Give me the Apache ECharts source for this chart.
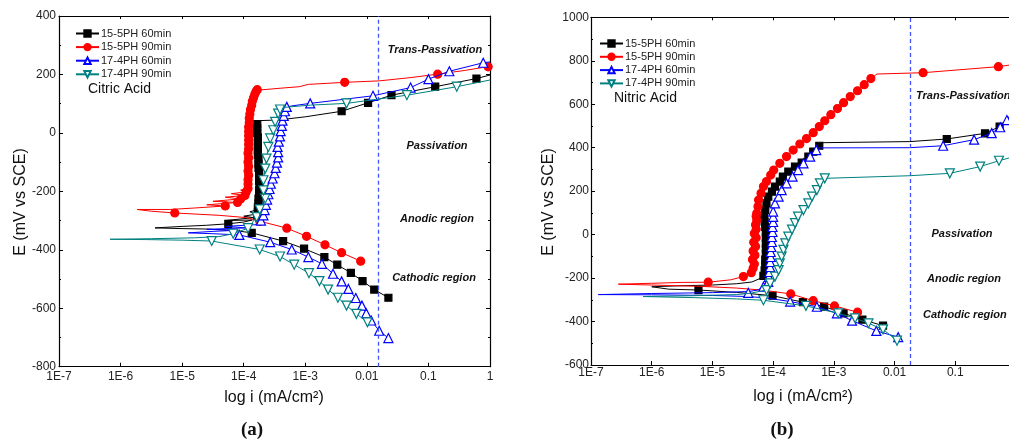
<!DOCTYPE html>
<html><head><meta charset="utf-8">
<script src="https://cdn.jsdelivr.net/npm/echarts@6/dist/echarts.min.js"></script>
<style>html,body{margin:0;padding:0;background:#fff;overflow:hidden}#c{width:1030px;height:443px}</style>
</head><body><div id="c"></div>
<script>
// ---------- data (x = log10 i, i in mA/cm2 ; y = E in mV vs SCE) ----------
const seriesNames = ['15-5PH 60min', '15-5PH 90min', '17-4PH 60min', '17-4PH 90min'];
const xTickValues = [-7, -6, -5, -4, -3, -2, -1, 0];
const xTickLabels = ['1E-7', '1E-6', '1E-5', '1E-4', '1E-3', '0.01', '0.1', '1'];
const dashedA = -1.81;
const dashedB = -1.75;

// Panel (a) Citric Acid
const aBlackLine = [[-1.65,-564],[-1.88,-536],[-2.07,-507],[-2.26,-479],[-2.48,-451],[-2.69,-425],[-3.02,-396],[-3.36,-370],[-3.87,-342],[-4.15,-334],[-4.6,-329],[-5.1,-327],[-5.44,-325],
  [-5.0,-320],[-4.6,-316],[-4.25,-311],[-4.0,-305],[-3.86,-298],[-4.3,-300],[-3.84,-290],[-4.0,-285],[-3.8,-278],[-3.9,-270],[-3.77,-262],[-3.82,-250],[-3.75,-240],[-3.76,-210],[-3.74,-180],[-3.75,-140],[-3.76,-100],[-3.77,-60],[-3.77,-20],[-3.78,15],[-3.77,30],[-3.76,42],
  [-3.45,44],[-3.0,55],[-2.41,74],[-1.98,103],[-1.60,129],[-0.89,158],[-0.22,186],[0,198]];
const aBlackMarks = [[-1.65,-564],[-1.88,-536],[-2.07,-507],[-2.26,-479],[-2.48,-451],[-2.69,-425],[-3.02,-396],[-3.36,-370],[-3.87,-342],[-4.25,-311],
  [-3.78,-285],[-3.77,-270],[-3.77,-255],[-3.76,-240],[-3.76,-225],[-3.75,-210],[-3.75,-195],[-3.74,-180],[-3.75,-165],[-3.75,-150],[-3.75,-135],[-3.76,-120],[-3.76,-105],[-3.76,-90],[-3.77,-75],[-3.77,-60],[-3.77,-45],[-3.77,-30],[-3.77,-15],[-3.78,0],[-3.78,15],[-3.78,30],
  [-2.41,74],[-1.98,103],[-1.60,129],[-0.89,158],[-0.22,186]];
const aRedLine = [[-2.10,-439],[-2.41,-410],[-2.68,-383],[-2.98,-354],[-3.30,-326],[-3.74,-302],[-3.95,-290],[-4.4,-282],[-5.12,-274],[-5.5,-268],[-5.73,-262],
  [-5.2,-262],[-4.8,-257],[-4.3,-250],[-4.6,-246],[-4.1,-238],[-4.5,-234],[-4.05,-226],[-4.3,-220],[-3.98,-214],[-4.2,-208],[-3.96,-202],[-4.05,-196],[-3.93,-188],[-3.92,-170],[-3.93,-140],[-3.92,-100],[-3.93,-60],[-3.92,-20],[-3.92,20],[-3.91,50],[-3.89,80],[-3.87,100],[-3.84,118],[-3.81,135],[-3.78,146],[-3.76,150],
  [-3.4,153],[-3.1,158],[-2.95,166],[-2.36,173],[-1.8,178],[-1.3,189],[-0.85,201],[-0.4,214],[0,228]];
const aRedMarks = [[-2.10,-439],[-2.41,-410],[-2.68,-383],[-2.98,-354],[-3.30,-326],[-3.74,-302],[-5.12,-274],
  [-4.3,-250],[-4.1,-238],[-4.05,-226],[-3.98,-214],[-3.96,-202],
  [-3.93,-190],[-3.93,-175],[-3.93,-160],[-3.92,-145],[-3.93,-130],[-3.92,-115],[-3.93,-100],[-3.92,-85],[-3.93,-70],[-3.92,-55],[-3.92,-40],[-3.92,-25],[-3.92,-10],[-3.92,5],[-3.92,20],[-3.91,35],[-3.91,50],[-3.90,65],[-3.89,80],[-3.87,95],[-3.86,108],[-3.84,120],[-3.82,132],[-3.80,142],[-3.78,148],
  [-2.36,173],[-0.85,201],[-0.03,226]];
const aBlueLine = [[-1.65,-702],[-1.80,-677],[-1.93,-642],[-2.01,-617],[-2.08,-591],[-2.18,-565],[-2.30,-534],[-2.41,-508],[-2.55,-482],[-2.73,-448],[-2.95,-425],[-3.22,-399],[-3.57,-374],[-4.07,-349],[-4.5,-345],[-4.9,-342],
  [-4.5,-337],[-4.1,-333],[-4.6,-330],[-3.95,-325],[-4.3,-320],[-3.80,-314],[-3.72,-300],[-3.68,-280],[-3.65,-260],[-3.63,-240],[-3.60,-200],[-3.57,-175],[-3.52,-145],[-3.47,-110],[-3.44,-80],[-3.44,-55],[-3.45,-35],[-3.41,0],[-3.38,30],[-3.35,58],[-3.32,80],[-3.29,89],[-3.2,93],
  [-2.92,101],[-1.90,127],[-1.29,155],[-1.00,184],[-0.66,211],[-0.11,240],[0,243]];
const aBlueMarks = [[-1.65,-702],[-1.80,-677],[-1.93,-642],[-2.01,-617],[-2.08,-591],[-2.18,-565],[-2.30,-534],[-2.41,-508],[-2.55,-482],[-2.73,-448],[-2.95,-425],[-3.22,-399],[-3.57,-374],[-4.07,-349],
  [-3.72,-300],[-3.68,-282],[-3.66,-264],[-3.64,-246],[-3.62,-228],[-3.60,-210],[-3.58,-192],[-3.56,-174],[-3.53,-156],[-3.50,-138],[-3.48,-120],[-3.46,-102],[-3.44,-84],[-3.44,-66],[-3.45,-48],[-3.43,-30],[-3.41,-12],[-3.40,6],[-3.38,24],[-3.37,42],[-3.35,58],[-3.33,74],[-3.30,89],
  [-2.92,101],[-1.90,127],[-1.29,155],[-1.00,184],[-0.66,211],[-0.11,240]];
const aTealLine = [[-1.99,-648],[-2.17,-619],[-2.33,-591],[-2.47,-564],[-2.63,-536],[-2.77,-507],[-2.94,-480],[-3.18,-451],[-3.41,-423],[-3.74,-399],[-4.52,-370],[-5.0,-367],[-5.6,-365],[-6.17,-364],
  [-5.5,-362],[-4.8,-359],[-4.4,-355],[-4.17,-345],[-3.93,-326],[-3.79,-288],[-3.74,-262],[-3.65,-225],[-3.68,-197],[-3.68,-162],[-3.65,-122],[-3.63,-88],[-3.60,-48],[-3.57,-19],[-3.52,9],[-3.49,38],[-3.44,66],[-3.41,80],[-3.36,87],
  [-2.92,95],[-2.33,101],[-1.35,129],[-0.54,158],[0,181]];
const aTealMarks = [[-1.99,-648],[-2.17,-619],[-2.33,-591],[-2.47,-564],[-2.63,-536],[-2.77,-507],[-2.94,-480],[-3.18,-451],[-3.41,-423],[-3.74,-399],[-4.52,-370],
  [-4.17,-345],[-3.93,-326],[-3.79,-288],[-3.74,-262],[-3.65,-225],[-3.68,-197],[-3.68,-162],[-3.65,-122],[-3.63,-88],[-3.60,-48],[-3.57,-19],[-3.52,9],[-3.49,38],[-3.44,66],[-3.41,80],
  [-2.33,101],[-1.35,129],[-0.54,158]];

// Panel (b) Nitric Acid
const bBlackLine = [[-2.19,-419],[-2.53,-391],[-2.84,-362],[-3.16,-331],[-3.51,-311],[-4.01,-281],[-4.6,-266],[-5.23,-255],[-5.72,-251],[-6.0,-240],
  [-5.6,-236],[-5.0,-232],[-4.6,-226],[-4.35,-218],[-4.2,-200],[-4.14,-185],[-4.18,-170],[-4.11,-150],[-4.16,-130],[-4.10,-110],[-4.15,-90],[-4.10,-65],[-4.14,-40],[-4.10,-15],[-4.14,10],[-4.11,35],[-4.15,60],[-4.15,83],[-4.13,113],[-4.11,144],[-4.08,175],[-4.02,198],[-3.97,221],[-3.89,244],[-3.84,267],[-3.75,290],[-3.64,313],[-3.53,331],[-3.42,359],[-3.34,382],[-3.24,409],[-3.20,423],
  [-1.75,428],[-1.14,440],[-0.51,466],[-0.27,497],[-0.11,527]];
const bBlackMarks = [[-2.19,-419],[-2.53,-391],[-2.84,-362],[-3.16,-331],[-3.51,-311],[-4.01,-281],[-5.23,-255],
  [-4.16,-190],[-4.14,-165],[-4.13,-140],[-4.13,-115],[-4.12,-90],[-4.12,-65],[-4.12,-40],[-4.12,-15],[-4.12,10],[-4.13,35],[-4.14,60],[-4.15,83],[-4.13,113],[-4.11,144],[-4.08,175],[-4.02,198],[-3.97,221],[-3.89,244],[-3.84,267],[-3.75,290],[-3.64,313],[-3.53,331],[-3.42,359],[-3.34,382],[-3.24,409],
  [-1.14,440],[-0.51,466],[-0.27,497]];
const bRedLine = [[-2.61,-357],[-2.99,-328],[-3.34,-304],[-3.71,-273],[-4.15,-256],[-4.6,-246],[-5.2,-238],[-6.0,-232],[-6.55,-228],
  [-6.0,-224],[-5.5,-220],[-5.07,-219],[-4.7,-208],[-4.49,-193],[-4.38,-180],[-4.33,-165],[-4.38,-150],[-4.30,-130],[-4.36,-110],[-4.29,-90],[-4.34,-70],[-4.28,-50],[-4.33,-25],[-4.27,0],[-4.32,25],[-4.26,50],[-4.30,75],[-4.27,98],[-4.25,129],[-4.24,159],[-4.20,190],[-4.16,221],[-4.11,244],[-4.04,274],[-3.99,297],[-3.89,328],[-3.78,359],[-3.67,389],[-3.56,417],[-3.45,442],[-3.34,469],[-3.24,497],[-3.15,524],[-3.05,552],[-2.94,580],[-2.84,607],[-2.73,635],[-2.61,662],[-2.50,690],[-2.39,718],[-2.29,739],
  [-1.53,745],[-0.29,773],[-0.11,780]];
const bRedMarks = [[-2.61,-357],[-2.99,-328],[-3.34,-304],[-3.71,-273],[-5.07,-219],[-4.49,-193],
  [-4.36,-175],[-4.33,-155],[-4.31,-135],[-4.34,-115],[-4.30,-95],[-4.33,-75],[-4.29,-55],[-4.32,-35],[-4.28,-15],[-4.31,5],[-4.28,25],[-4.29,45],[-4.27,65],[-4.28,85],[-4.27,98],[-4.25,129],[-4.24,159],[-4.20,190],[-4.16,221],[-4.11,244],[-4.04,274],[-3.99,297],[-3.89,328],[-3.78,359],[-3.67,389],[-3.56,417],[-3.45,442],[-3.34,469],[-3.24,497],[-3.15,524],[-3.05,552],[-2.94,580],[-2.84,607],[-2.73,635],[-2.61,662],[-2.50,690],[-2.39,718],
  [-1.53,745],[-0.29,773]];
const bBlueLine = [[-1.94,-472],[-2.30,-443],[-2.70,-396],[-2.95,-362],[-3.28,-332],[-3.72,-308],[-4.1,-292],[-4.41,-285],[-5.0,-280],[-6.0,-277],[-6.88,-276],
  [-6.0,-271],[-5.0,-267],[-4.41,-262],[-4.25,-255],[-4.16,-240],[-4.08,-224],[-4.07,-200],[-4.06,-170],[-4.05,-147],[-4.05,-120],[-4.04,-90],[-4.03,-60],[-4.02,-30],[-4.02,0],[-4.01,30],[-4.00,60],[-4.00,106],[-3.97,144],[-3.91,175],[-3.86,205],[-3.78,236],[-3.68,267],[-3.59,297],[-3.50,328],[-3.39,359],[-3.29,389],[-3.28,399],
  [-1.75,400],[-1.20,409],[-0.69,437],[-0.40,467],[-0.26,494],[-0.15,527],[-0.11,545]];
const bBlueMarks = [[-1.94,-472],[-2.30,-443],[-2.70,-396],[-2.95,-362],[-3.28,-332],[-3.72,-308],[-4.41,-268],
  [-4.16,-240],[-4.08,-218],[-4.07,-195],[-4.06,-172],[-4.05,-149],[-4.05,-126],[-4.04,-103],[-4.04,-80],[-4.03,-57],[-4.02,-34],[-4.02,-11],[-4.01,12],[-4.01,35],[-4.00,58],[-4.00,82],[-4.00,106],[-3.97,144],[-3.91,175],[-3.86,205],[-3.78,236],[-3.68,267],[-3.59,297],[-3.50,328],[-3.39,359],[-3.29,389],
  [-1.20,409],[-0.69,437],[-0.40,467],[-0.26,494],[-0.15,527]];
const bTealLine = [[-1.96,-488],[-2.19,-436],[-2.43,-408],[-2.65,-385],[-2.93,-362],[-3.46,-328],[-4.16,-302],[-4.6,-296],[-5.3,-290],[-6.14,-285],
  [-5.3,-281],[-4.6,-276],[-4.38,-270],[-4.11,-255],[-4.05,-224],[-3.97,-193],[-3.91,-163],[-3.89,-132],[-3.86,-101],[-3.83,-70],[-3.80,-40],[-3.75,-9],[-3.69,23],[-3.64,53],[-3.59,83],[-3.50,113],[-3.42,144],[-3.36,175],[-3.28,205],[-3.23,236],[-3.15,259],[-3.12,267],
  [-1.75,271],[-1.09,282],[-0.59,313],[-0.28,340],[-0.11,353]];
const bTealMarks = [[-1.96,-488],[-2.19,-436],[-2.43,-408],[-2.65,-385],[-2.93,-362],[-3.46,-328],[-4.16,-302],
  [-4.11,-255],[-4.05,-224],[-3.97,-193],[-3.91,-163],[-3.89,-132],[-3.86,-101],[-3.83,-70],[-3.80,-40],[-3.75,-9],[-3.69,23],[-3.64,53],[-3.59,83],[-3.50,113],[-3.42,144],[-3.36,175],[-3.28,205],[-3.23,236],[-3.15,259],
  [-1.09,282],[-0.59,313],[-0.28,340]];

// ---------- styles ----------
const styles = [
  {color:'#000000', fill:'#000000', symbol:'rect', size:7},
  {color:'#ff0000', fill:'#ff0000', symbol:'circle', size:8},
  {color:'#0000ff', fill:'#ffffff', symbol:'triangle', size:9},
  {color:'#008080', fill:'#ffffff', symbol:'path://M0,0L10,0L5,9Z', size:9}
];
const panels = [
  {lines:[aBlackLine,aRedLine,aBlueLine,aTealLine], marks:[aBlackMarks,aRedMarks,aBlueMarks,aTealMarks], dash:dashedA},
  {lines:[bBlackLine,bRedLine,bBlueLine,bTealLine], marks:[bBlackMarks,bRedMarks,bBlueMarks,bTealMarks], dash:dashedB}
];

const FONT = 'Liberation Sans, Arial, sans-serif';
const series = [];
panels.forEach((p, pi) => {
  p.lines.forEach((line, k) => {
    const st = styles[k];
    const s = {
      name: seriesNames[k], type:'line', xAxisIndex: pi*2, yAxisIndex: pi*2,
      data: line, showSymbol:false, symbol: st.symbol, symbolSize: st.size,
      itemStyle:{color: st.fill, borderColor: st.color, borderWidth: 1.2},
      lineStyle:{color: st.color, width: 1}, z: 2 + k, silent:true, clip:true
    };
    if (k === 0) {
      s.markLine = {symbol:'none', silent:true, label:{show:false},
        lineStyle:{color:'#4455ff', type:[4,3], width:1.3},
        data:[{xAxis: p.dash}]};
    }
    series.push(s);
    series.push({
      type:'scatter', xAxisIndex: pi*2, yAxisIndex: pi*2, data: p.marks[k],
      symbol: st.symbol, symbolSize: st.size,
      itemStyle:{color: st.fill, borderColor: st.color, borderWidth: 1.2, opacity:1},
      z: 2 + k, silent:true, clip:true
    });
  });
});

function xAxes(gi, bottomMargin) {
  return [
    {gridIndex:gi, type:'value', min:-7, max:0, interval:1, position:'bottom',
     axisLine:{show:true, onZero:false, lineStyle:{color:'#000', width:1.2}},
     axisTick:{show:true, inside:true, length:4, lineStyle:{color:'#000'}},
     axisLabel:{margin:bottomMargin, fontSize:12, color:'#222', fontFamily:FONT,
       formatter:(v)=> xTickLabels[xTickValues.indexOf(Math.round(v))]},
     splitLine:{show:false}},
    {gridIndex:gi, type:'value', min:-7, max:0, interval:1, position:'top',
     axisLine:{show:true, onZero:false, lineStyle:{color:'#000', width:1.2}},
     axisTick:{show:true, inside:true, length:3, lineStyle:{color:'#000'}},
     axisLabel:{show:false}, splitLine:{show:false}}
  ];
}
function yAxes(gi, min, max, margin) {
  return [
    {gridIndex:gi, type:'value', min:min, max:max, interval:200, position:'left',
     axisLine:{show:true, onZero:false, lineStyle:{color:'#000', width:1.2}},
     axisTick:{show:true, inside:true, length:4, lineStyle:{color:'#000'}},
     minorTick:{show:true, splitNumber:2, length:2, lineStyle:{color:'#000'}},
     axisLabel:{margin:margin, fontSize:12, color:'#222', fontFamily:FONT, formatter:(v)=> String(v)},
     splitLine:{show:false}},
    {gridIndex:gi, type:'value', min:min, max:max, interval:200, position:'right',
     axisLine:{show:true, onZero:false, lineStyle:{color:'#000', width:1.2}},
     axisTick:{show:true, inside:true, length:4, lineStyle:{color:'#000'}},
     minorTick:{show:true, splitNumber:2, length:2, lineStyle:{color:'#000'}},
     axisLabel:{show:false}, splitLine:{show:false}}
  ];
}

function txt(x, y, text, font, align, rot) {
  return {type:'text', x:x, y:y, rotation: rot || 0, silent:true,
    style:{text:text, font:font, fill:'#111', align:align || 'center', verticalAlign:'middle',
      textAlign:align || 'center', textVerticalAlign:'middle'}};
}
const BI = 'italic bold 11px ' + FONT;
const graphics = [
  txt(21, 202, 'E (mV vs SCE)', '16px ' + FONT, 'center', Math.PI/2),
  txt(549, 202, 'E (mV vs SCE)', '16px ' + FONT, 'center', Math.PI/2),
  txt(274, 398, 'log i (mA/cm²)', '16px ' + FONT),
  txt(803, 397, 'log i (mA/cm²)', '16px ' + FONT),
  txt(252, 430, '(a)', 'bold 19px Liberation Serif, serif'),
  txt(782, 430, '(b)', 'bold 19px Liberation Serif, serif'),
  txt(88, 89, 'Citric Acid', '14px ' + FONT, 'left'),
  txt(614, 98, 'Nitric Acid', '14px ' + FONT, 'left'),
  txt(435, 50, 'Trans-Passivation', BI),
  txt(437, 146, 'Passivation', BI),
  txt(437, 219, 'Anodic region', BI),
  txt(434, 278, 'Cathodic region', BI),
  txt(916, 96, 'Trans-Passivation', BI, 'left'),
  txt(962, 234, 'Passivation', BI),
  txt(964, 279, 'Anodic region', BI),
  txt(923, 315, 'Cathodic region', BI, 'left')
];

function legend(left, top, gap) {
  return {data: seriesNames, orient:'vertical', left:left, top:top, itemWidth:23, itemHeight:8,
    itemGap:gap, padding:0, selectedMode:false,
    textStyle:{fontSize:11, color:'#222', fontFamily:FONT, padding:[0,0,0,-3]}};
}

const chart = echarts.init(document.getElementById('c'), null, {renderer:'canvas'});
chart.setOption({
  animation:false,
  backgroundColor:'#fff',
  grid:[{left:59, top:16, width:431, height:350.7},{left:591, top:17.3, width:425, height:347.7}],
  xAxis: xAxes(0, 4).concat(xAxes(1, 2)),
  yAxis: yAxes(0, -800, 400, 3).concat(yAxes(1, -600, 1000, 2)),
  legend:[legend(75, 28, 2.6), legend(599, 38, 2.3)],
  graphic: graphics,
  series: series
});
</script></body></html>
